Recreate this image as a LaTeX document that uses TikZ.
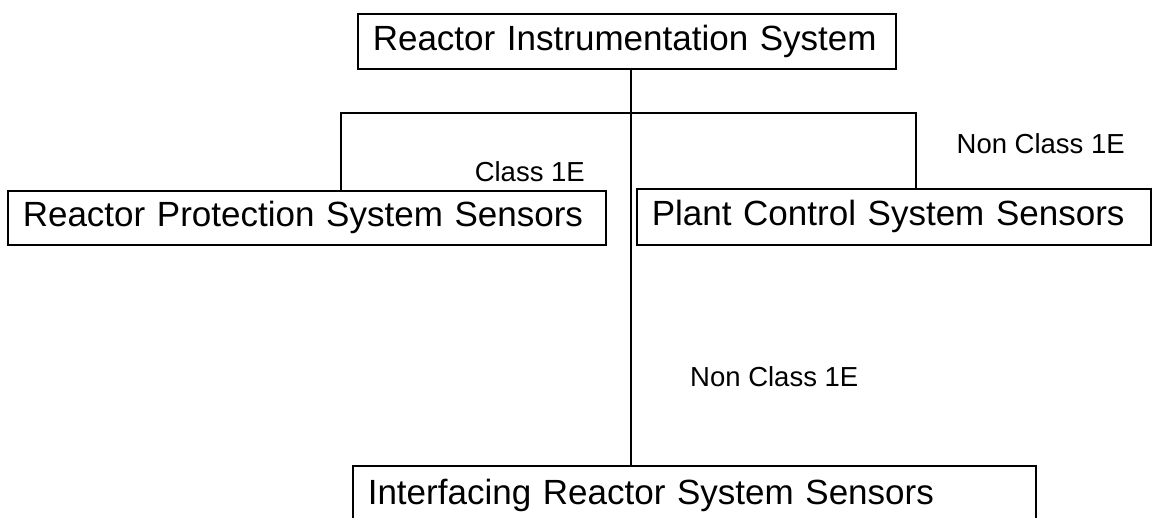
\documentclass[tikz,border=0pt]{standalone}
\usepackage{fontspec}
\setmainfont{Liberation Sans}
\usetikzlibrary{positioning, calc}
\tikzset{
  sysbox/.style={draw, line width=1.6pt, anchor=north west, align=left, inner xsep=15pt, inner ysep=0pt, text width=#1, font=\fontsize{35}{42}\selectfont},
  link/.style={draw, line width=1.6pt},
  cls/.style={font=\fontsize{27.5}{33}\selectfont, inner sep=0pt},
}
\begin{document}
\begin{tikzpicture}[x=1pt, y=-1pt]
  \useasboundingbox (0,0) rectangle (1153,517);
  % system boxes
  \node[sysbox=508pt, minimum height=55pt] (ris) at (357,13) {Reactor Instrumentation System};
  \node[sysbox=568pt, minimum height=54pt] (rps) at (7,190) {Reactor Protection System Sensors};
  \node[sysbox=484pt, minimum height=56pt] (pcs) at (636,188) {Plant Control System Sensors};
  \node[sysbox=653pt, minimum height=60pt] (irs) at (352,465) {Interfacing Reactor System Sensors};
  % tree lines
  \coordinate (hub) at (631,113);
  \coordinate (lhook) at (341,113);
  \coordinate (rhook) at (916,113);
  \draw[link] (ris.south -| hub) -- (irs.north -| hub);
  \draw[link] (rps.north -| lhook) -- (lhook) -- (rhook) -- (pcs.north -| rhook);
  % class labels
  \node[cls, anchor=base east] (c1e) at (585,181) {Class 1E};
  \node[cls, anchor=base east] (nc1) at (1125,153) {Non Class 1E};
  \node[cls, anchor=base west] (nc2) at (690,386) {Non Class 1E};
\end{tikzpicture}
\end{document}
